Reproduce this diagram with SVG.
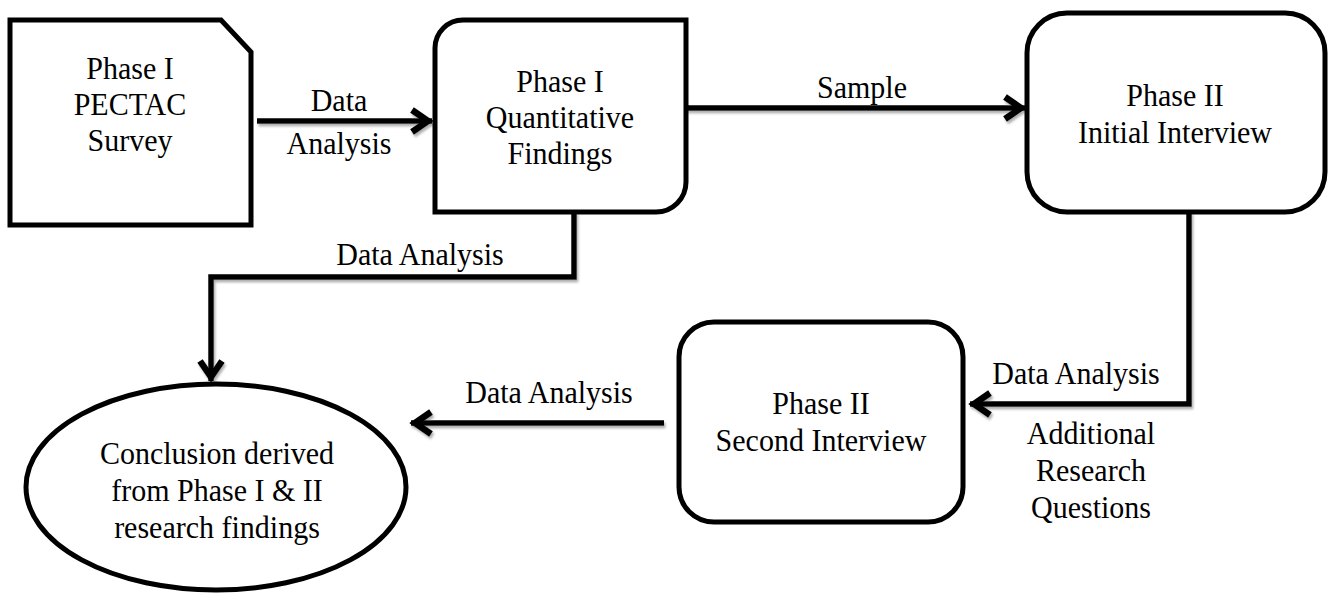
<svg xmlns="http://www.w3.org/2000/svg" width="1333" height="593" viewBox="0 0 1333 593">
<style>
.node{fill:#fff;stroke:#000;stroke-width:5}
.t{font-family:"Liberation Serif","Times New Roman",serif;font-size:30px;fill:#000;text-anchor:middle;transform-box:fill-box;transform-origin:center;transform:scaleY(1.08)}
.conn{fill:none;stroke:#000;stroke-width:5.5;stroke-linejoin:miter}
</style>
<defs>
<marker id="arr" markerUnits="userSpaceOnUse" viewBox="-26 -16 30 32" refX="0" refY="0" markerWidth="30" markerHeight="32" orient="auto">
<path d="M-20,-11 L-4,0 L-20,11" fill="none" stroke="#000" stroke-width="6.5" stroke-linejoin="miter" stroke-miterlimit="10"/>
</marker>
<filter id="sh" x="-5%" y="-20%" width="110%" height="140%">
<feDropShadow dx="1.5" dy="2.5" stdDeviation="1" flood-color="#777" flood-opacity="0.6"/>
</filter>
</defs>
<rect width="1333" height="593" fill="#fff"/>
<g id="connectors" filter="url(#sh)">
<path class="conn" d="M257,121 H432" marker-end="url(#arr)"/>
<path class="conn" d="M686,108 H1025" marker-end="url(#arr)"/>
<path class="conn" d="M1189,212 V404 H970" marker-end="url(#arr)"/>
<path class="conn" d="M574,212 V277 H211 V381" marker-end="url(#arr)"/>
<path class="conn" d="M664,423 H411" marker-end="url(#arr)"/>
</g>
<g id="labels">
<text class="t" x="339" y="110">Data</text>
<text class="t" x="339" y="153">Analysis</text>
<text class="t" x="862" y="97">Sample</text>
<text class="t" x="420" y="264">Data Analysis</text>
<text class="t" x="1076" y="383">Data Analysis</text>
<text class="t" x="1091" y="443">Additional</text>
<text class="t" x="1091" y="480">Research</text>
<text class="t" x="1091" y="517">Questions</text>
<text class="t" x="549" y="402">Data Analysis</text>
</g>
<g id="survey">
<path class="node" d="M10,20 H221 L251,52 V225 H10 Z"/>
<text class="t" x="130" y="78">Phase I</text>
<text class="t" x="130" y="114">PECTAC</text>
<text class="t" x="130" y="150">Survey</text>
</g>
<g id="quantitative">
<path class="node" d="M463,20 H686 V182 A30,30 0 0 1 656,212 H435 V48 A28,28 0 0 1 463,20 Z"/>
<text class="t" x="560" y="91">Phase I</text>
<text class="t" x="560" y="127">Quantitative</text>
<text class="t" x="560" y="163">Findings</text>
</g>
<g id="initial-interview">
<rect class="node" x="1027" y="13" width="298" height="199" rx="40"/>
<text class="t" x="1175" y="105">Phase II</text>
<text class="t" x="1175" y="142">Initial Interview</text>
</g>
<g id="second-interview">
<rect class="node" x="679" y="322" width="284" height="200" rx="35"/>
<text class="t" x="821" y="413">Phase II</text>
<text class="t" x="821" y="450">Second Interview</text>
</g>
<g id="conclusion">
<ellipse class="node" cx="216" cy="487" rx="190" ry="103"/>
<text class="t" x="217" y="463">Conclusion derived</text>
<text class="t" x="217" y="500">from Phase I &amp; II</text>
<text class="t" x="217" y="537">research findings</text>
</g>
</svg>
